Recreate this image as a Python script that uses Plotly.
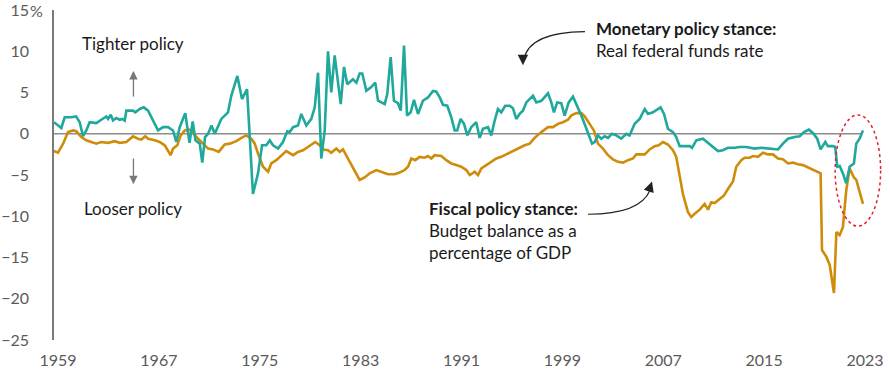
import plotly.graph_objects as go

# ---- Data ----
monetary_years = [
    1958.68, 1959.26, 1959.53, 1960.05, 1960.43, 1960.72, 1960.98, 1961.24, 1961.51, 1962.04,
    1962.43, 1962.83, 1962.97, 1963.18, 1963.36, 1963.62, 1963.89, 1964.08, 1964.29, 1964.42,
    1964.95, 1965.13, 1965.48, 1965.80, 1966.14, 1966.40, 1966.93, 1967.33, 1967.72, 1968.12,
    1968.38, 1968.65, 1969.09, 1969.43, 1969.68, 1969.90, 1970.24, 1970.44, 1970.66, 1970.90,
    1971.17, 1971.43, 1971.95, 1972.48, 1972.74, 1973.22, 1973.59, 1973.99, 1974.20, 1974.46,
    1974.86, 1975.18, 1975.52, 1975.79, 1976.05, 1976.45, 1976.84, 1977.18, 1977.37, 1977.64,
    1978.03, 1978.29, 1978.69, 1979.09, 1979.36, 1979.62, 1979.88, 1980.15, 1980.41, 1980.67,
    1980.94, 1981.42, 1981.68, 1981.94, 1982.39, 1982.66, 1982.92, 1983.13, 1983.45, 1983.80,
    1984.16, 1984.38, 1984.91, 1985.11, 1985.38, 1985.64, 1985.96, 1986.18, 1986.44, 1986.68,
    1986.97, 1987.23, 1987.55, 1987.94, 1988.34, 1988.74, 1989.00, 1989.27, 1989.53, 1989.87,
    1990.19, 1990.46, 1990.66, 1990.93, 1991.20, 1991.46, 1991.77, 1992.17, 1992.44, 1992.70,
    1993.10, 1993.36, 1993.63, 1993.89, 1994.15, 1994.47, 1994.82, 1995.08, 1995.34, 1995.61,
    1995.87, 1996.14, 1996.67, 1996.93, 1997.33, 1997.86, 1998.12, 1998.33, 1998.59, 1998.91,
    1999.18, 1999.50, 1999.84, 2000.24, 2000.50, 2000.81, 2001.16, 2001.35, 2001.56, 2001.82,
    2002.08, 2002.35, 2002.62, 2002.93, 2003.27, 2003.67, 2004.07, 2004.33, 2004.73, 2005.13,
    2005.53, 2005.79, 2006.18, 2006.52, 2006.79, 2007.06, 2007.37, 2007.77, 2008.03, 2008.30,
    2008.70, 2009.09, 2009.28, 2009.62, 2010.15, 2010.55, 2010.94, 2011.34, 2011.73, 2012.13,
    2012.66, 2013.06, 2013.58, 2013.85, 2014.25, 2014.77, 2015.30, 2016.10, 2016.49, 2016.89,
    2017.42, 2017.82, 2018.16, 2018.55, 2018.87, 2019.21, 2019.48, 2019.85, 2020.06, 2020.46,
    2020.64, 2020.80, 2020.99, 2021.25, 2021.51, 2021.78, 2022.12, 2022.31, 2022.57, 2022.84,
]
monetary_rate = [
    1.4, 0.7, 2.0, 2.0, 2.1, 1.4, -0.3, 0.4, 1.4, 1.3,
    1.7, 2.1, 1.8, 2.3, 1.6, 1.9, 1.7, 1.8, 1.6, 2.8,
    2.8, 2.6, 3.0, 3.2, 2.8, 2.0, 0.4, 0.8, 0.8, 0.4,
    -1.0, 0.8, 2.5, -1.1, 1.5, -0.8, -1.2, -3.5, -0.4, 0.0,
    1.0, 0.0, 1.8, 2.6, 4.6, 7.0, 4.2, 5.4, 0.0, -7.3,
    -4.8, -1.4, -1.4, -0.8, -1.4, -1.8, -1.0, 0.3, 0.2, 0.8,
    1.0, 2.4, 1.0, 1.8, 3.2, 7.4, -3.0, 0.4, 10.0, 5.0,
    9.5, 3.6, 8.1, 6.0, 6.6, 6.2, 7.3, 7.3, 5.2, 5.6,
    6.2, 4.0, 3.6, 4.8, 9.3, 4.0, 3.7, 2.8, 10.7, 2.2,
    2.6, 4.1, 2.4, 4.0, 4.4, 5.2, 5.1, 4.4, 3.5, 3.4,
    2.0, 0.4, 0.4, 1.8, 1.2, -0.2, 0.8, 1.4, -0.5, 0.6,
    0.8, -0.2, 1.6, 3.0, 2.6, 3.4, 3.4, 3.1, 1.8, 2.4,
    2.8, 3.8, 4.6, 3.8, 4.0, 4.9, 3.8, 2.6, 3.8, 3.7,
    2.2, 3.8, 4.5, 3.2, 2.2, 1.0, -0.4, -1.2, -1.0, -0.2,
    -0.6, -0.3, -0.5, 0.0, -0.2, -0.6, 0.0, -0.2, 1.2, 1.8,
    3.0, 2.4, 2.6, 2.9, 3.2, 2.4, 0.6, 0.2, -0.4, -1.5,
    -1.5, -1.5, -1.7, -0.8, -0.6, -1.1, -1.6, -2.1, -2.0, -1.7,
    -1.7, -1.6, -1.6, -1.7, -1.8, -1.7, -1.8, -1.9, -1.2, -0.6,
    -0.4, -0.3, 0.2, 0.5, 0.1, -0.6, -1.9, -1.0, -1.5, -1.5,
    -1.6, -4.0, -3.9, -4.8, -6.0, -4.0, -3.6, -1.2, -0.6, 0.4,
]

fiscal_years = [
    1958.68, 1959.00, 1959.40, 1959.79, 1960.19, 1960.45, 1960.85, 1961.24, 1961.64, 1962.04,
    1962.43, 1962.97, 1963.50, 1963.89, 1964.42, 1964.69, 1964.95, 1965.34, 1965.61, 1965.92,
    1966.14, 1966.67, 1967.06, 1967.46, 1967.72, 1967.94, 1968.12, 1968.46, 1968.73, 1969.05,
    1969.39, 1969.57, 1969.97, 1970.36, 1970.90, 1971.29, 1971.74, 1971.95, 1972.22, 1972.62,
    1973.14, 1973.54, 1973.93, 1974.33, 1974.60, 1974.86, 1975.26, 1975.66, 1975.91, 1976.31,
    1976.84, 1977.10, 1977.64, 1978.03, 1978.43, 1978.96, 1979.40, 1979.75, 1980.01, 1980.41,
    1980.67, 1981.07, 1981.34, 1981.60, 1982.00, 1982.39, 1982.92, 1983.32, 1983.72, 1984.24,
    1984.64, 1985.17, 1985.70, 1986.10, 1986.49, 1986.76, 1987.02, 1987.33, 1987.68, 1988.08,
    1988.34, 1988.60, 1988.87, 1989.40, 1989.79, 1990.19, 1990.58, 1990.98, 1991.38, 1991.65,
    1991.77, 1992.04, 1992.31, 1992.57, 1992.97, 1993.36, 1993.76, 1994.15, 1994.55, 1994.95,
    1995.34, 1995.74, 1996.01, 1996.41, 1996.80, 1997.33, 1997.86, 1998.25, 1998.65, 1999.05,
    1999.44, 1999.70, 2000.10, 2000.50, 2000.77, 2001.16, 2001.50, 2001.82, 2002.22, 2002.62,
    2003.01, 2003.41, 2003.80, 2004.20, 2004.60, 2004.86, 2005.26, 2005.53, 2005.92, 2006.32,
    2006.64, 2006.98, 2007.37, 2007.77, 2008.03, 2008.30, 2008.56, 2008.96, 2009.22, 2009.49,
    2009.89, 2010.28, 2010.55, 2010.81, 2011.08, 2011.47, 2011.81, 2012.13, 2012.53, 2012.79,
    2013.19, 2013.46, 2013.85, 2014.11, 2014.51, 2014.91, 2015.30, 2015.70, 2016.10, 2016.49,
    2016.89, 2017.29, 2017.68, 2018.08, 2018.48, 2018.87, 2019.21, 2019.48, 2019.59, 2019.93,
    2020.20, 2020.54, 2020.73, 2020.99, 2021.25, 2021.51, 2021.78, 2022.12, 2022.31, 2022.84,
]
fiscal_balance = [
    -2.1, -2.3, -1.2, 0.2, 0.4, 0.3, -0.4, -0.8, -1.0, -1.2,
    -1.0, -1.1, -0.9, -1.1, -1.0, -0.7, -0.3, -0.6, -0.7, -0.3,
    -0.6, -0.8, -1.0, -1.4, -2.0, -2.6, -1.8, -1.4, -0.2, 0.4,
    0.5, 0.4, -0.4, -1.0, -1.8, -1.9, -2.2, -1.8, -1.3, -1.2,
    -0.9, -0.5, -0.2, -0.6, -1.2, -2.4, -4.0, -4.6, -3.6, -3.2,
    -2.4, -2.1, -2.6, -2.2, -2.0, -1.5, -1.0, -1.4, -1.9, -2.0,
    -2.3, -1.8, -2.2, -1.9, -3.0, -4.0, -5.6, -5.3, -4.8, -4.4,
    -4.6, -4.9, -4.9, -4.7, -4.4, -4.0, -3.0, -3.2, -2.8, -2.9,
    -2.7, -3.0, -2.6, -2.7, -3.2, -3.6, -3.8, -4.0, -4.4, -5.0,
    -4.9, -4.6, -5.0, -4.2, -3.8, -3.4, -3.0, -2.8, -2.5, -2.2,
    -1.9, -1.6, -1.4, -1.2, -0.5, 0.2, 0.8, 0.8, 1.2, 1.4,
    1.7, 2.2, 2.5, 2.5, 2.1, 1.2, 0.4, -1.2, -1.8, -2.6,
    -3.1, -3.4, -3.5, -3.2, -3.0, -2.5, -2.5, -2.5, -1.9, -1.5,
    -1.4, -1.0, -1.3, -2.0, -2.8, -5.2, -7.3, -9.5, -10.1, -9.7,
    -9.2, -8.5, -9.2, -8.3, -8.4, -7.9, -7.5, -6.7, -5.8, -4.0,
    -3.2, -2.9, -2.9, -2.7, -2.8, -2.3, -2.5, -2.5, -3.0, -3.1,
    -3.6, -3.5, -3.7, -3.8, -4.1, -4.4, -4.6, -4.8, -14.1, -14.9,
    -15.9, -19.3, -11.9, -12.3, -11.3, -6.9, -4.2, -5.3, -5.6, -8.5,
]

x_tick_years = [1959, 1967, 1975, 1983, 1991, 1999, 2007, 2015, 2023]
y_tick_values = [15, 10, 5, 0, -5, -10, -15, -20, -25]
y_tick_labels = ["15", "10", "5", "0", "\u22125", "\u221210", "\u221215", "\u221220", "\u221225"]

TEAL = "#1fa89c"
GOLD = "#cf8c0a"
FONT = "Lato"
GREY_TXT = "#5a5a5a"
X0, X1 = 1958.68, 2023.08

fig = go.Figure()

fig.add_trace(go.Scatter(x=fiscal_years, y=fiscal_balance, mode="lines",
                         line=dict(color=GOLD, width=2.6), hoverinfo="skip", cliponaxis=False))
fig.add_trace(go.Scatter(x=monetary_years, y=monetary_rate, mode="lines",
                         line=dict(color=TEAL, width=2.6), hoverinfo="skip", cliponaxis=False))

shapes = [
    # zero line
    dict(type="line", xref="x", yref="y", x0=X0, x1=2022.72, y0=0, y1=0,
         line=dict(color="#8c8c8c", width=1.3), layer="below"),
    # monetary curved arrow
    dict(type="path", xref="x", yref="y",
         path="M 2000.79 12.37 Q 1996.35 12.3 1995.95 9.0",
         line=dict(color="#222222", width=1.2)),
    # fiscal curved arrow
    dict(type="path", xref="x", yref="y",
         path="M 2001.03 -9.76 Q 2005.15 -9.77 2005.95 -6.86",
         line=dict(color="#222222", width=1.2)),
    # up / down arrows shafts
    dict(type="line", xref="x", yref="y", x0=1964.98, x1=1964.98, y0=4.5, y1=7.5,
         line=dict(color="#777777", width=1.3)),
    dict(type="line", xref="x", yref="y", x0=1964.98, x1=1964.98, y0=-3.0, y1=-6.0,
         line=dict(color="#777777", width=1.3)),
    # red dashed ellipse
    dict(type="circle", xref="paper", yref="paper", x0=0.962, x1=1.018, y0=0.345, y1=0.682,
         line=dict(color="#e8202e", width=1.5, dash="3px,3px")),
]

annotations = [
    dict(text="Tighter policy", x=1964.98, y=10.9, xref="x", yref="y", showarrow=False,
         font=dict(family=FONT, size=17, color="#1a1a1a")),
    dict(text="Looser policy", x=1964.98, y=-9.1, xref="x", yref="y", showarrow=False,
         font=dict(family=FONT, size=17, color="#1a1a1a")),
    # arrowheads
    dict(x=1964.98, y=7.6, ax=0, ay=4, xref="x", yref="y", text="", showarrow=True,
         arrowhead=2, arrowsize=1.3, arrowwidth=1.3, arrowcolor="#777777"),
    dict(x=1964.98, y=-6.1, ax=0, ay=-4, xref="x", yref="y", text="", showarrow=True,
         arrowhead=2, arrowsize=1.3, arrowwidth=1.3, arrowcolor="#777777"),
    dict(x=1995.87, y=8.3, ax=0, ay=-6, xref="x", yref="y", text="", showarrow=True,
         arrowhead=2, arrowsize=1.6, arrowwidth=1.3, arrowcolor="#222222"),
    dict(x=2006.11, y=-5.78, ax=-2, ay=6, xref="x", yref="y", text="", showarrow=True,
         arrowhead=2, arrowsize=1.6, arrowwidth=1.3, arrowcolor="#222222"),
    # labels
    dict(text="<b>Monetary policy stance:</b><br>Real federal funds rate",
         x=2001.5, y=14.3, xref="x", yref="y", xanchor="left", yanchor="top", align="left",
         showarrow=False, font=dict(family=FONT, size=17, color="#1a1a1a")),
    dict(text="<b>Fiscal policy stance:</b><br>Budget balance as a<br>percentage of GDP",
         x=1988.3, y=-7.5, xref="x", yref="y", xanchor="left", yanchor="top", align="left",
         showarrow=False, font=dict(family=FONT, size=17, color="#1a1a1a")),
    # percent sign beside the top tick label
    dict(text="%", x=-0.0325, y=15, xref="paper", yref="y", xanchor="left", showarrow=False,
         font=dict(family=FONT, size=16, color=GREY_TXT)),
]

fig.update_layout(
    width=890, height=371,
    margin=dict(l=54, r=24, t=10, b=31, autoexpand=False),
    paper_bgcolor="white", plot_bgcolor="white",
    showlegend=False,
    shapes=shapes, annotations=annotations,
    font=dict(family=FONT, size=16, color=GREY_TXT),
    xaxis=dict(range=[X0, X1], tickvals=x_tick_years, ticktext=[str(v) for v in x_tick_years],
               showgrid=False, zeroline=False, showline=False, automargin=False,
               ticks="outside", ticklen=6, tickcolor="rgba(0,0,0,0)", ticklabeloverflow="allow",
               tickfont=dict(family=FONT, size=16, color=GREY_TXT)),
    yaxis=dict(range=[-25, 15], tickvals=y_tick_values, ticktext=y_tick_labels,
               showgrid=False, zeroline=False, showline=True, linecolor="#7a7a7a", linewidth=1.5,
               ticks="outside", ticklen=20, tickcolor="rgba(0,0,0,0)", automargin=False,
               ticklabeloverflow="allow",
               tickfont=dict(family=FONT, size=16, color=GREY_TXT)),
)

fig.write_html("out.html", config={"displayModeBar": False},
               post_script="document.body.style.margin='0';")
